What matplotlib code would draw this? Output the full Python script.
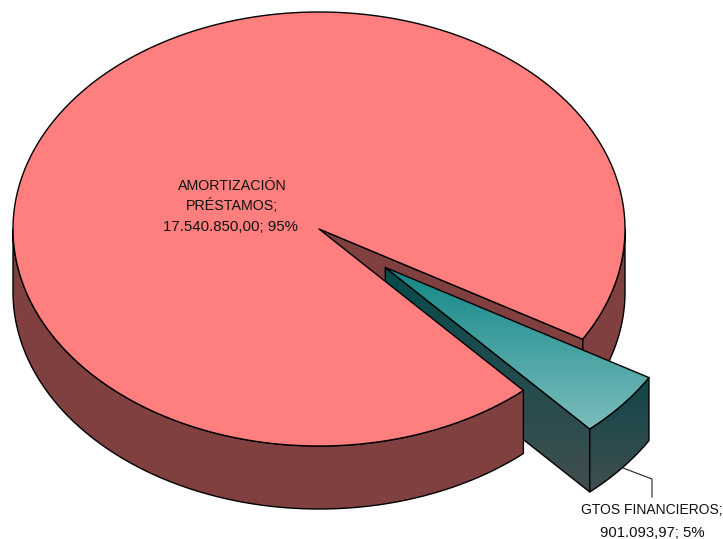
#!/usr/bin/python3
import matplotlib
matplotlib.use("Agg")
import matplotlib.pyplot as plt
from matplotlib.colors import LinearSegmentedColormap
from matplotlib.patches import Polygon
import numpy as np

categories = [["AMORTIZACIÓN", "PRÉSTAMOS;"], ["GTOS FINANCIEROS;"]]
values = [17540850.00, 901093.97]
label_values = ["17.540.850,00", "901.093,97"]
percents = ["95%", "5%"]

plt.rcParams['font.family'] = ['Liberation Sans', 'DejaVu Sans']

# pie geometry, in picture pixels
CX, CY = 319, 229
RX, RY = 306, 217
DEPTH = 63
START = -30.5       # angle where the small slice begins, going clockwise
EXPLODE = 0.28

RED_TOP = "#FF7F7F"
RED_SIDE = "#804040"
LINE = "#000000"
LW = 1.0


def arc(a0, a1, cx=CX, cy=CY, n=200):
    t = np.radians(np.linspace(a0, a1, n))
    return np.column_stack((cx + RX * np.cos(t), cy - RY * np.sin(t)))


def poly(ax, pts, color, z):
    p = Polygon(pts, closed=True, facecolor=color, edgecolor=LINE, lw=LW,
                joinstyle='round', zorder=z)
    ax.add_patch(p)
    return p


def gradient(ax, pts, top, bottom, z):
    # vertical colour ramp clipped to the polygon
    p = Polygon(pts, closed=True, facecolor='none', edgecolor=LINE, lw=LW,
                joinstyle='round', zorder=z + 0.1)
    ax.add_patch(p)
    cmap = LinearSegmentedColormap.from_list("g", [top, bottom])
    y0, y1 = pts[:, 1].min(), pts[:, 1].max()
    im = ax.imshow(np.linspace(0, 1, 256).reshape(-1, 1), cmap=cmap, aspect='auto',
                   extent=(pts[:, 0].min(), pts[:, 0].max(), y1, y0), zorder=z)
    im.set_clip_path(Polygon(pts, closed=True, transform=ax.transData))


def down(pts):
    return pts + np.array([0, DEPTH])


fig = plt.figure(figsize=(7.23, 5.39), dpi=100)
ax = fig.add_axes([0, 0, 1, 1])
ax.axis('off')

sweep = 360.0 * values[1] / sum(values)
a_start = START
a_end = START - sweep
a_mid = (a_start + a_end) / 2
ox = CX + EXPLODE * RX * np.cos(np.radians(a_mid))
oy = CY - EXPLODE * RY * np.sin(np.radians(a_mid))
centre = np.array([[CX, CY]])
apex = np.array([[ox, oy]])

# big slice, parts behind the small one
back = arc(0, a_start)
poly(ax, np.vstack((back, down(back)[::-1])), RED_SIDE, 1)
cut = arc(a_start, a_start, n=1)
poly(ax, np.vstack((centre, cut, down(cut), down(centre))), RED_SIDE, 2)

# small slice
teal_outer = arc(a_start, a_end, ox, oy)
teal_last = teal_outer[-1:]
gradient(ax, np.vstack((apex, teal_last, down(teal_last), down(apex))),
         "#054A4C", "#414E50", 3)
gradient(ax, np.vstack((teal_outer, down(teal_outer)[::-1])),
         "#0F4648", "#414E50", 4)
gradient(ax, np.vstack((apex, teal_outer)), "#128787", "#7ABDBC", 5)

# big slice, parts in front
front = arc(-180, a_end)
poly(ax, np.vstack((front, down(front)[::-1])), RED_SIDE, 6)
top = arc(a_end, a_start - 360, n=600)
poly(ax, np.vstack((centre, top)), RED_TOP, 7)

# labels, one text per line because the capitals run narrower than the digits
TEXT = "#111111"
for s, y in zip(categories[0], [186, 206]):
    ax.text(232, y, s, ha='center', va='center', fontsize=10.3, color=TEXT, zorder=8)
ax.text(230.5, 227, "%s; %s" % (label_values[0], percents[0]),
        ha='center', va='center', fontsize=10.8, color=TEXT, zorder=8)
ax.text(651.5, 510, categories[1][0], ha='center', va='center', fontsize=10.0, color=TEXT, zorder=8)
ax.text(652, 533, "%s; %s" % (label_values[1], percents[1]),
        ha='center', va='center', fontsize=10.7, color=TEXT, zorder=8)
ax.plot([623, 652, 652], [468, 479, 497], color="#222222", lw=0.8, zorder=2.5)

ax.set_xlim(0, 723)
ax.set_ylim(539, 0)
fig.savefig("out.png", dpi=100, facecolor='white')
